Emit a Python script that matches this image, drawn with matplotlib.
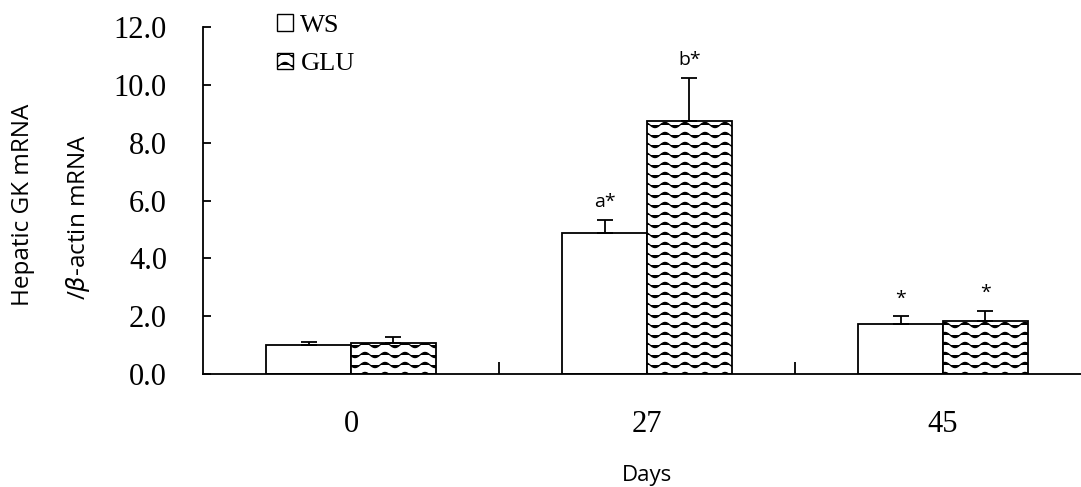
import warnings
import numpy as np
import matplotlib
matplotlib.use('Agg')
import matplotlib.pyplot as plt
from matplotlib import hatch as mhatch
from matplotlib.path import Path
from matplotlib.patches import Patch

warnings.filterwarnings('ignore')

# data
days = ['0', '27', '45']
ws_mean = [1.00, 4.87, 1.72]
ws_err = [0.11, 0.45, 0.28]
glu_mean = [1.06, 8.75, 1.83]
glu_err = [0.23, 1.50, 0.35]
ws_marks = ['', 'a*', '*']
glu_marks = ['', 'b*', '*']

serif = ['Liberation Serif', 'Times New Roman', 'DejaVu Serif']
sans = ['Open Sans', 'DejaVu Sans']
plt.rcParams['font.serif'] = serif


# wavy hatch ('~'), matplotlib has none built in
class WaveHatch(mhatch.HatchPatternBase):
    def __init__(self, hatch, density):
        self.num_rows = hatch.count('~') * 5
        self.n_pts = 100
        self.num_vertices = self.num_rows * self.n_pts

    def set_vertices_and_codes(self, vertices, codes):
        x = np.linspace(0, 1, self.n_pts)
        k = 0
        for r in range(self.num_rows):
            y0 = (r + 0.5) / self.num_rows
            y = y0 + 0.026 * np.sin(2 * np.pi * 5 * x)
            vertices[k:k + self.n_pts, 0] = x
            vertices[k:k + self.n_pts, 1] = y
            codes[k] = Path.MOVETO
            codes[k + 1:k + self.n_pts] = Path.LINETO
            k += self.n_pts


mhatch._hatch_types.append(WaveHatch)
plt.rcParams['hatch.linewidth'] = 0.9
plt.rcParams['hatch.color'] = '#444444'

fig = plt.figure(figsize=(10.81, 4.87), dpi=100)
ax = fig.add_axes([203 / 1081, 1 - 374 / 487, 888 / 1081, 347 / 487])

x = np.arange(len(days))
w = 0.287
ekw = dict(elinewidth=1.3, capsize=6, capthick=1.3, ecolor='black')
ax.bar(x - w / 2, ws_mean, w, color='white', edgecolor='black', linewidth=1.3,
       yerr=[np.zeros(3), ws_err], error_kw=ekw, zorder=2)
ax.bar(x + w / 2, glu_mean, w, color='white', edgecolor='black', linewidth=1.3,
       hatch='~~', yerr=[np.zeros(3), glu_err], error_kw=ekw, zorder=2)

for i in range(len(days)):
    if ws_marks[i]:
        ax.text(x[i] - w / 2, ws_mean[i] + ws_err[i] + 0.3, ws_marks[i],
                ha='center', va='bottom', fontsize=14, family=sans)
    if glu_marks[i]:
        ax.text(x[i] + w / 2, glu_mean[i] + glu_err[i] + 0.3, glu_marks[i],
                ha='center', va='bottom', fontsize=14, family=sans)

ax.set_xlim(-0.5, 2.5)
ax.set_ylim(0, 12)
ax.set_yticks(np.arange(0, 12.1, 2))
ax.set_yticklabels([f'{v:.1f}' for v in np.arange(0, 12.1, 2)],
                   family=serif, fontsize=22)
ax.set_xticks(x)
ax.set_xticklabels(days, family=serif, fontsize=22)
ax.set_xticks([0.5, 1.5], minor=True)
ax.tick_params(axis='x', which='major', length=0, pad=26)
ax.tick_params(axis='x', which='minor', direction='in', length=9, width=1.3)
ax.tick_params(axis='y', direction='in', length=6, width=1.3, pad=26)
for s in ['top', 'right']:
    ax.spines[s].set_visible(False)
for s in ['left', 'bottom']:
    ax.spines[s].set_linewidth(1.3)

fig.text(647 / 1081, 1 - 476 / 487, 'Days', ha='center', va='center',
         fontsize=16, family=sans)
fig.text(23 / 1081, 1 - 205 / 487, 'Hepatic GK mRNA', rotation=90,
         ha='center', va='center', fontsize=17.5, family=sans)
fig.text(78 / 1081, 1 - 217 / 487, r'/$\mathit{\beta}$-actin mRNA', rotation=90,
         ha='center', va='center', fontsize=17.5, family=sans)

handles = [Patch(facecolor='white', edgecolor='black', label='WS'),
           Patch(facecolor='white', edgecolor='black', hatch='~~', label='GLU')]
ax.legend(handles=handles, loc='upper left', bbox_to_anchor=(0.083, 1.037),
          frameon=False, prop={'family': serif, 'size': 19},
          handlelength=0.6, handleheight=0.6, handletextpad=0.3,
          labelspacing=0.6, borderaxespad=0, borderpad=0)

fig.savefig('out.png', dpi=100)
